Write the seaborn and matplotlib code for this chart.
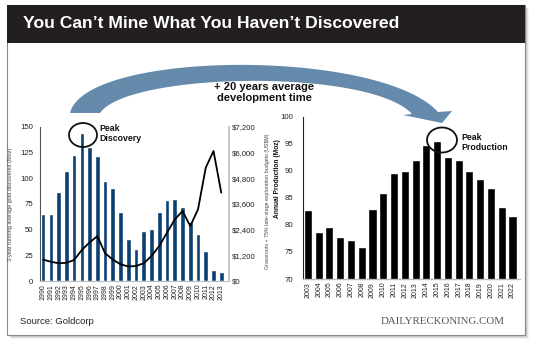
import numpy as np
import pandas as pd
import seaborn as sns
import matplotlib
matplotlib.use("Agg")
import matplotlib.pyplot as plt
from matplotlib.patches import Rectangle, Ellipse, Polygon

# ---------------- data ----------------
disc_years = [str(y) for y in range(1990, 2014)]
discovered_moz = [65, 65, 87, 107, 123, 144, 131, 122, 97, 91, 67, 41, 31,
                  49, 51, 67, 79, 80, 72, 57, 46, 29, 11, 8.5]
budgets_usdm = [1000, 900, 830, 850, 980, 1450, 1800, 2100, 1300, 1000, 780,
                680, 700, 830, 1170, 1640, 2260, 2880, 3270, 2570, 3350, 5300,
                6080, 4130]
prod_years = [str(y) for y in range(2003, 2023)]
production_moz = [82.7, 78.7, 79.6, 77.8, 77.2, 76.0, 83.0, 85.9, 89.6, 90.0,
                  92.0, 94.8, 95.6, 92.5, 92.0, 90.0, 88.4, 86.8, 83.4, 81.7]
left_ticks = [0, 25, 50, 75, 100, 125, 150]
right_ticks = [0, 1200, 2400, 3600, 4800, 6000, 7200]
prod_ticks = [70, 75, 80, 85, 90, 95, 100]

sns.set_theme(style="white")
plt.rcParams['font.family'] = ['Liberation Sans', 'DejaVu Sans']

W, H = 540, 346
fig = plt.figure(figsize=(W / 100, H / 100), dpi=100)
fig.patch.set_facecolor("white")


def fx(x):
    return x / W


def fy(y):
    return 1 - y / H


# ---------------- frame ----------------
for i, a in enumerate([0.05, 0.07, 0.10, 0.14]):
    off = 4 - i
    fig.add_artist(Rectangle((fx(7 + off), fy(335 + off)), fx(518), 330 / H,
                             transform=fig.transFigure, facecolor="#000000",
                             alpha=a, edgecolor="none", zorder=-3))
fig.add_artist(Rectangle((fx(7), fy(335)), fx(518), 330 / H,
                         transform=fig.transFigure, facecolor="white",
                         edgecolor="#8a8a8a", lw=0.8, zorder=-2))
fig.add_artist(Rectangle((fx(7), fy(43)), fx(518), 38 / H,
                         transform=fig.transFigure, facecolor="#231f20",
                         edgecolor="none", zorder=-1))
fig.text(fx(23), fy(24), "You Can\u2019t Mine What You Haven\u2019t Discovered",
         color="white", fontsize=12.6, fontweight="bold", va="center",
         ha="left")

# ---------------- left chart ----------------
navy = "#0b3f70"
ax1 = fig.add_axes([fx(40), fy(281), fx(189), 154 / H])
df1 = pd.DataFrame({"year": disc_years, "moz": discovered_moz})
sns.barplot(data=df1, x="year", y="moz", color=navy, width=0.6,
            saturation=1, ax=ax1)
ax1.set_xlim(-0.4, 24.0)
ax1.set_ylim(0, 150)
ax1.set_yticks(left_ticks)
ax1.set_yticklabels([str(t) for t in left_ticks])
ax1.tick_params(axis="y", length=0, pad=5, labelsize=5.6, colors="#222")
ax1.tick_params(axis="x", length=0, pad=2, labelsize=5.0, rotation=90,
                colors="#222")
ax1.set_xlabel("")
ax1.set_ylabel("3-year running average gold discovered (Moz)", fontsize=4.0,
               color="#444")
ax1.yaxis.set_label_coords(-0.143, 0.5)
ax1.spines["top"].set_visible(False)
ax1.spines["left"].set_color("#555")
ax1.spines["left"].set_linewidth(0.8)
ax1.spines["bottom"].set_color("#bbbbbb")
ax1.spines["bottom"].set_linewidth(0.8)
ax1.spines["right"].set_visible(False)
ax1.patch.set_alpha(0)

ax2 = ax1.twinx()
sns.lineplot(x=np.arange(len(budgets_usdm)), y=budgets_usdm, color="black",
             lw=1.3, ax=ax2)
ax2.set_ylim(0, 7200)
ax2.set_yticks(right_ticks)
ax2.set_yticklabels([f"${t:,}" for t in right_ticks])
ax2.tick_params(axis="y", length=0, pad=2, labelsize=5.6, colors="#222")
ax2.set_ylabel("Grassroots + 75% late-stage exploration budgets (US$M)",
               fontsize=3.8, color="#444")
ax2.yaxis.set_label_coords(1.19, 0.52)
for s in ["top", "left", "bottom"]:
    ax2.spines[s].set_visible(False)
ax2.spines["right"].set_color("#c4c4c4")
ax2.spines["right"].set_linewidth(1.3)
ax2.patch.set_alpha(0)

# ---------------- right chart ----------------
ax3 = fig.add_axes([fx(302.5), fy(279), fx(217.5), 162.3 / H])
df3 = pd.DataFrame({"year": prod_years, "moz": production_moz})
sns.barplot(data=df3, x="year", y="moz", color="black", width=0.75,
            saturation=1, ax=ax3)
ax3.set_xlim(-0.5, 19.7)
ax3.set_ylim(70, 100)
ax3.set_yticks(prod_ticks)
ax3.set_yticklabels([str(t) for t in prod_ticks])
ax3.tick_params(axis="y", length=0, pad=7, labelsize=5.6, colors="#222")
ax3.tick_params(axis="x", length=0, pad=2, labelsize=5.0, rotation=90,
                colors="#222")
ax3.set_xlabel("")
ax3.set_ylabel("Annual Production (Moz)", fontsize=4.8, fontweight="bold",
               color="#111")
ax3.yaxis.set_label_coords(-0.10, 0.62)
for s in ["top", "right"]:
    ax3.spines[s].set_visible(False)
ax3.spines["left"].set_color("#222")
ax3.spines["left"].set_linewidth(0.8)
ax3.spines["bottom"].set_color("#bbbbbb")
ax3.spines["bottom"].set_linewidth(1.0)
ax3.patch.set_alpha(0)

# ---------------- arrow ----------------
def cubic(p0, p1, p2, p3, n=60):
    t = np.linspace(0, 1, n)[:, None]
    p0, p1, p2, p3 = map(np.array, (p0, p1, p2, p3))
    return ((1 - t) ** 3) * p0 + 3 * ((1 - t) ** 2) * t * p1 + \
        3 * (1 - t) * t ** 2 * p2 + t ** 3 * p3


outer = cubic((70, 113), (85, 50), (380, 48), (438, 112))
inner = cubic((100, 113), (128, 72), (370, 68), (412, 114))[::-1]
head = np.array([(452, 111), (442, 123), (403, 115)])
pts = np.vstack([outer, head, inner])
pts_fig = np.column_stack([pts[:, 0] / W, 1 - pts[:, 1] / H])
fig.add_artist(Polygon(pts_fig, closed=True, transform=fig.transFigure,
                       facecolor="#658aac", edgecolor="none", zorder=1))

fig.text(fx(264), fy(92.5), "+ 20 years average\ndevelopment time",
         ha="center", va="center", fontsize=8, fontweight="bold",
         linespacing=1.1, color="#111")

# ---------------- peak annotations ----------------
fig.add_artist(Ellipse((fx(83), fy(135)), fx(28), 24 / H,
                       transform=fig.transFigure, facecolor="none",
                       edgecolor="#111", lw=1.3, zorder=5))
fig.text(fx(99), fy(133.5), "Peak\nDiscovery", ha="left", va="center",
         fontsize=6.3, fontweight="bold", linespacing=1.1, color="#111")
fig.add_artist(Ellipse((fx(442), fy(140)), fx(30), 25 / H,
                       transform=fig.transFigure, facecolor="none",
                       edgecolor="#111", lw=1.3, zorder=5))
fig.text(fx(461), fy(142.5), "Peak\nProduction", ha="left", va="center",
         fontsize=6.3, fontweight="bold", linespacing=1.1, color="#111")

# ---------------- footer ----------------
fig.text(fx(20), fy(321.5), "Source: Goldcorp", ha="left", va="center",
         fontsize=6.8, color="#222")
fig.text(fx(505), fy(321.5), "DAILYRECKONING.COM", ha="right", va="center",
         fontsize=7.8, color="#555", family=["Liberation Serif", "DejaVu Serif"])

for a in (ax1, ax3):
    a.set_zorder(2)
ax2.set_zorder(3)

fig.savefig("out.png", dpi=100)
